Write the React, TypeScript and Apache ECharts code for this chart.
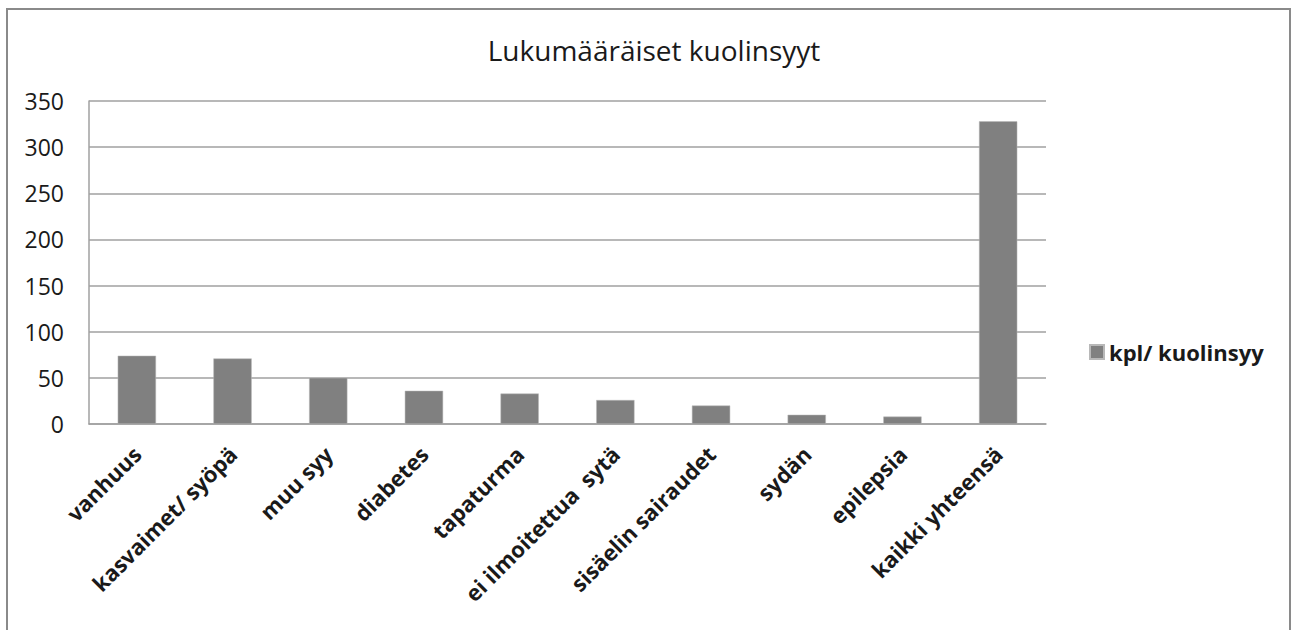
import React, { useEffect, useRef } from "react";
import * as echarts from "echarts";

const categories = [
  "vanhuus",
  "kasvaimet/ syöpä",
  "muu syy",
  "diabetes",
  "tapaturma",
  "ei ilmoitettua  sytä",
  "sisäelin sairaudet",
  "sydän",
  "epilepsia",
  "kaikki yhteensä",
];
const values = [74, 71, 50, 36, 33, 26, 20, 10, 8, 328];
const seriesName = "kpl/ kuolinsyy";
const titleText = "Lukumääräiset kuolinsyyt";

export default function App() {
  const ref = useRef<HTMLDivElement>(null);
  useEffect(() => {
    if (!ref.current) return;
    const chart = echarts.init(ref.current, undefined, { renderer: "svg" });
    chart.setOption({
      animation: false,
      backgroundColor: "#ffffff",
      textStyle: { fontFamily: "Open Sans" },
      title: {
        text: titleText,
        left: 649,
        top: 31,
        textAlign: "center",
        textStyle: { fontSize: 28, fontWeight: "normal", color: "#1a1a1a", fontFamily: "Open Sans" },
      },
      legend: {
        data: [seriesName],
        left: 1084,
        top: 336,
        padding: 5,
        itemWidth: 14,
        itemHeight: 14,
        itemGap: 9,
        icon: "rect",
        textStyle: { fontSize: 22, fontWeight: "bold", color: "#1a1a1a", fontFamily: "Open Sans" },
      },
      grid: { left: 89, right: 249, top: 101, bottom: 206, containLabel: false },
      xAxis: {
        type: "category",
        data: categories,
        axisLine: { show: true, lineStyle: { color: "#a0a0a0", width: 1.5 } },
        axisTick: { show: false },
        axisLabel: {
          rotate: 45,
          interval: 0,
          margin: 26,
          fontSize: 22,
          fontWeight: "bold",
          color: "#1a1a1a",
          fontFamily: "Open Sans",
        },
      },
      yAxis: {
        type: "value",
        min: 0,
        max: 350,
        interval: 50,
        axisLine: { show: true, lineStyle: { color: "#a0a0a0", width: 1.5 } },
        axisTick: { show: false },
        splitLine: { lineStyle: { color: "#a0a0a0", width: 1.5 } },
        axisLabel: { fontSize: 23, color: "#1a1a1a", margin: 25, fontFamily: "Open Sans" },
      },
      series: [
        {
          name: seriesName,
          type: "bar",
          data: values,
          barCategoryGap: "60%",
          itemStyle: { color: "#808080", borderColor: "#b8b8b8", borderWidth: 0.5 },
        },
      ],
      graphic: [
        {
          type: "rect",
          shape: { x: 7, y: 9, width: 1283, height: 640 },
          style: { fill: "none", stroke: "#8a8a8a", lineWidth: 2 },
          silent: true,
        },
      ],
    });
    return () => chart.dispose();
  }, []);
  return (
    <div
      ref={ref}
      style={{ position: "fixed", left: 0, top: 0, width: 1295, height: 630 }}
    />
  );
}
